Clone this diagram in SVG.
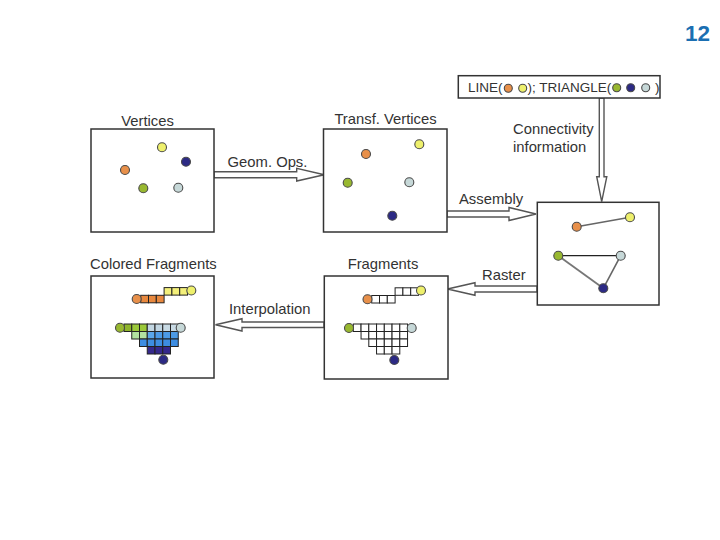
<svg xmlns="http://www.w3.org/2000/svg" width="720" height="540" viewBox="0 0 720 540">
<defs>
<style>
.box{fill:#fff;stroke:#333;stroke-width:1.5}
.lbl{font-family:"Liberation Sans",Arial,sans-serif;font-size:14.8px;fill:#333}
.small{font-family:"Liberation Sans",Arial,sans-serif;font-size:13.5px;fill:#333}
.arr{fill:#fff;stroke:#555;stroke-width:1.4;stroke-linejoin:miter}
.dot{stroke:#4a4a4a;stroke-width:1.1}
.o{fill:#e8904a}.y{fill:#eef06c}.n{fill:#2c2a84}.g{fill:#98b830}.l{fill:#c6d8d8}
.cell{stroke:#222;stroke-width:1}
.w{fill:#fff}
</style>
</defs>
<rect width="720" height="540" fill="#fff"/>
<text x="710" y="41" text-anchor="end" font-family="Liberation Sans,Arial,sans-serif" font-weight="bold" font-size="22.5" fill="#1b6fb2">12</text>

<g id="connectors">
<polygon class="arr" points="214,171.7 296.7,171.7 296.7,168.3 324.3,174.7 296.7,181 296.7,177.7 214,177.7"/>
<text class="lbl" x="267.5" y="166.7" text-anchor="middle">Geom. Ops.</text>
<polygon class="arr" points="447,211 509,211 509,207.5 536,214 509,220.5 509,217 447,217"/>
<text class="lbl" x="459" y="203.5">Assembly</text>
<polygon class="arr" points="599.3,98 604,98 604,176.7 606.8,176.7 601.7,201.7 596.7,176.7 599.3,176.7"/>
<text class="lbl" x="513" y="134">Connectivity</text>
<text class="lbl" x="513" y="151.7">information</text>
<polygon class="arr" points="537,286 475,286 475,282.7 447.5,289 475,295.3 475,292 537,292"/>
<text class="lbl" x="482" y="280">Raster</text>
<polygon class="arr" points="324,322 242,322 242,318.7 215.5,324.7 242,331 242,327.5 324,327.5"/>
<text class="lbl" x="229" y="314">Interpolation</text>
</g>

<g id="vertices">
<text class="lbl" x="147.5" y="125.5" text-anchor="middle">Vertices</text>
<rect class="box" x="91" y="129" width="123" height="103"/>
<circle class="dot y" cx="162" cy="147.3" r="4.5"/>
<circle class="dot n" cx="186" cy="161.7" r="4.5"/>
<circle class="dot o" cx="125" cy="170" r="4.5"/>
<circle class="dot g" cx="143.3" cy="188.3" r="4.5"/>
<circle class="dot l" cx="178.3" cy="187.7" r="4.5"/>
</g>

<g id="transf-vertices">
<text class="lbl" x="385.5" y="124" text-anchor="middle">Transf. Vertices</text>
<rect class="box" x="323.5" y="129" width="123.5" height="103"/>
<circle class="dot o" cx="366" cy="154" r="4.5"/>
<circle class="dot y" cx="419.3" cy="144.3" r="4.5"/>
<circle class="dot g" cx="347.7" cy="182.7" r="4.5"/>
<circle class="dot l" cx="409.3" cy="182.3" r="4.5"/>
<circle class="dot n" cx="392.3" cy="215.7" r="4.5"/>
</g>

<g id="connectivity">
<rect class="box" x="458.3" y="75.7" width="201.7" height="22.3"/>
<text class="small" x="468" y="91.5">LINE(</text>
<circle class="dot o" cx="508.3" cy="88.3" r="4"/>
<circle class="dot y" cx="522.7" cy="88.3" r="4"/>
<text class="small" x="527.5" y="91.5">); TRIANGLE(</text>
<circle class="dot g" cx="616.7" cy="87.7" r="4"/>
<circle class="dot n" cx="630.7" cy="87.7" r="4"/>
<circle class="dot l" cx="645.7" cy="87.7" r="4"/>
<text class="small" x="655" y="91.5">)</text>
</g>

<g id="assembled">
<rect class="box" x="537.3" y="202.3" width="121.7" height="102.7"/>
<line x1="576.7" y1="226.7" x2="630" y2="217.3" stroke="#666" stroke-width="1.6"/>
<line x1="558.3" y1="255.7" x2="620.7" y2="255.7" stroke="#222" stroke-width="1.3"/>
<line x1="558.3" y1="255.7" x2="603.3" y2="288.3" stroke="#777" stroke-width="1.8"/>
<line x1="620.7" y1="255.7" x2="603.3" y2="288.3" stroke="#666" stroke-width="1.6"/>
<circle class="dot o" cx="576.7" cy="226.7" r="4.5"/>
<circle class="dot y" cx="630" cy="217.3" r="4.5"/>
<circle class="dot g" cx="558.3" cy="255.7" r="4.5"/>
<circle class="dot l" cx="620.7" cy="255.7" r="4.5"/>
<circle class="dot n" cx="603.3" cy="288.3" r="4.5"/>
</g>

<g id="fragments">
<text class="lbl" x="383" y="269" text-anchor="middle">Fragments</text>
<rect class="box" x="324.3" y="276" width="123.7" height="103"/>
<g class="cell w">
<rect x="371.7" y="295.5" width="7.8" height="7.5"/><rect x="379.5" y="295.5" width="7.8" height="7.5"/><rect x="387.3" y="295.5" width="7.8" height="7.5"/>
<rect x="395.1" y="287.8" width="7.8" height="7.5"/><rect x="402.9" y="287.8" width="7.8" height="7.5"/><rect x="410.7" y="287.8" width="7.8" height="7.5"/>
<rect x="353.3" y="324" width="7.75" height="7.5"/><rect x="361.05" y="324" width="7.75" height="7.5"/><rect x="368.8" y="324" width="7.75" height="7.5"/><rect x="376.55" y="324" width="7.75" height="7.5"/><rect x="384.3" y="324" width="7.75" height="7.5"/><rect x="392.05" y="324" width="7.75" height="7.5"/><rect x="399.8" y="324" width="7.75" height="7.5"/>
<rect x="361.05" y="331.5" width="7.75" height="7.5"/><rect x="368.8" y="331.5" width="7.75" height="7.5"/><rect x="376.55" y="331.5" width="7.75" height="7.5"/><rect x="384.3" y="331.5" width="7.75" height="7.5"/><rect x="392.05" y="331.5" width="7.75" height="7.5"/><rect x="399.8" y="331.5" width="7.75" height="7.5"/>
<rect x="368.8" y="339" width="7.75" height="7.5"/><rect x="376.55" y="339" width="7.75" height="7.5"/><rect x="384.3" y="339" width="7.75" height="7.5"/><rect x="392.05" y="339" width="7.75" height="7.5"/><rect x="399.8" y="339" width="7.75" height="7.5"/>
<rect x="376.55" y="346.5" width="7.75" height="7.5"/><rect x="384.3" y="346.5" width="7.75" height="7.5"/><rect x="392.05" y="346.5" width="7.75" height="7.5"/>
</g>
<circle class="dot o" cx="367.5" cy="299.3" r="4.5"/>
<circle class="dot y" cx="421" cy="290.5" r="4.5"/>
<circle class="dot g" cx="349" cy="328" r="4.5"/>
<circle class="dot l" cx="411.7" cy="328" r="4.5"/>
<circle class="dot n" cx="394.3" cy="360" r="4.5"/>
</g>

<g id="colored-fragments">
<text class="lbl" x="90" y="269">Colored Fragments</text>
<rect class="box" x="91" y="276" width="123" height="102"/>
<g class="cell">
<rect x="140.7" y="295.3" width="7.8" height="7.5" fill="#e8883e"/><rect x="148.5" y="295.3" width="7.8" height="7.5" fill="#e8883e"/><rect x="156.3" y="295.3" width="7.8" height="7.5" fill="#e8883e"/>
<rect x="164.1" y="287.6" width="7.8" height="7.5" fill="#f4f07a"/><rect x="171.9" y="287.6" width="7.8" height="7.5" fill="#f4f07a"/><rect x="179.7" y="287.6" width="7.8" height="7.5" fill="#f4f07a"/>
<rect x="124" y="324" width="7.75" height="7.5" fill="#8fb52c"/><rect x="131.75" y="324" width="7.75" height="7.5" fill="#9bc93a"/><rect x="139.5" y="324" width="7.75" height="7.5" fill="#9bc93a"/><rect x="147.25" y="324" width="7.75" height="7.5" fill="#c2d6e2"/><rect x="155" y="324" width="7.75" height="7.5" fill="#c2d6e2"/><rect x="162.75" y="324" width="7.75" height="7.5" fill="#c8dae4"/><rect x="170.5" y="324" width="7.75" height="7.5" fill="#c8dae4"/>
<rect x="131.75" y="331.5" width="7.75" height="7.5" fill="#b2e2a0"/><rect x="139.5" y="331.5" width="7.75" height="7.5" fill="#b2e2a0"/><rect x="147.25" y="331.5" width="7.75" height="7.5" fill="#5aa6ea"/><rect x="155" y="331.5" width="7.75" height="7.5" fill="#4c9ae6"/><rect x="162.75" y="331.5" width="7.75" height="7.5" fill="#4c9ae6"/><rect x="170.5" y="331.5" width="7.75" height="7.5" fill="#4c9ae6"/>
<rect x="139.5" y="339" width="7.75" height="7.5" fill="#3d8de2"/><rect x="147.25" y="339" width="7.75" height="7.5" fill="#3d8de2"/><rect x="155" y="339" width="7.75" height="7.5" fill="#3d8de2"/><rect x="162.75" y="339" width="7.75" height="7.5" fill="#3d8de2"/><rect x="170.5" y="339" width="7.75" height="7.5" fill="#3d8de2"/>
<rect x="147.25" y="346.5" width="7.75" height="7.5" fill="#35288c"/><rect x="155" y="346.5" width="7.75" height="7.5" fill="#35288c"/><rect x="162.75" y="346.5" width="7.75" height="7.5" fill="#35288c"/>
</g>
<circle class="dot o" cx="136.7" cy="299" r="4.5"/>
<circle class="dot y" cx="191.3" cy="290.5" r="4.5"/>
<circle class="dot g" cx="120" cy="327.7" r="4.5"/>
<circle class="dot l" cx="180.7" cy="327.7" r="4.5"/>
<circle class="dot n" cx="163.3" cy="359.7" r="4.5"/>
</g>
</svg>
